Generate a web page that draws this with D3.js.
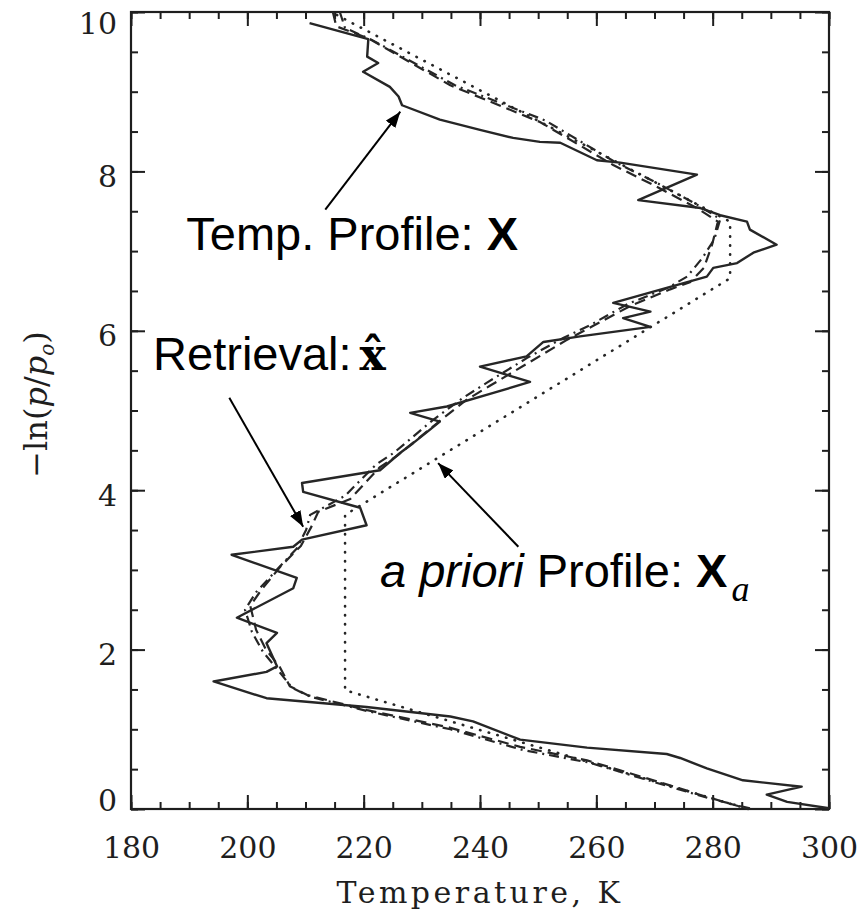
<!DOCTYPE html>
<html>
<head>
<meta charset="utf-8">
<script src="https://cdn.jsdelivr.net/npm/d3@7"></script>
<style>
  body { margin: 0; background: #fff; }
  svg { display: block; }
</style>
</head>
<body>
<svg id="chart"></svg>
<script>
// values: [temperature K, -ln(p/p0)]
let trueProfile = [
  [210.7, 9.86], [220.8, 9.66], [220.6, 9.44], [222.5, 9.36], [219.9, 9.25],
  [224.5, 9.06], [226.0, 8.94], [226.6, 8.83], [233.1, 8.65], [240.0, 8.52],
  [245.7, 8.42], [250.3, 8.37], [253.8, 8.36], [260.1, 8.14], [264.1, 8.11],
  [277.3, 7.96], [267.2, 7.64], [277.9, 7.54], [281.3, 7.45], [285.9, 7.37],
  [286.4, 7.27], [291.0, 7.08], [287.0, 6.98], [284.2, 6.85], [280.1, 6.79],
  [279.0, 6.68], [272.7, 6.55], [262.9, 6.35], [269.3, 6.24], [264.6, 6.16],
  [269.3, 6.05], [257.2, 5.93], [250.9, 5.86], [248.0, 5.68], [240.0, 5.55],
  [248.6, 5.36], [242.3, 5.22], [234.3, 5.05], [228.0, 4.97], [233.1, 4.86],
  [231.4, 4.76], [228.5, 4.59], [226.3, 4.47], [222.8, 4.25], [209.4, 4.09],
  [209.6, 3.98], [219.4, 3.78], [220.5, 3.56], [209.4, 3.38], [207.9, 3.29],
  [197.3, 3.19], [208.5, 2.90], [207.9, 2.77], [198.2, 2.40], [205.1, 2.21],
  [203.3, 2.08], [205.1, 1.79], [203.3, 1.72], [194.2, 1.60], [203.3, 1.39],
  [220.5, 1.28], [234.9, 1.16], [238.8, 1.10], [246.9, 0.87], [258.4, 0.77],
  [272.1, 0.69], [274.4, 0.64], [279.0, 0.51], [285.2, 0.36], [295.3, 0.28],
  [289.3, 0.18], [292.8, 0.09], [300.0, 0.01]
];

let aprioriProfile = [
  [286.1, 0.0], [216.8, 1.49], [216.8, 3.69], [283.0, 6.66], [283.0, 7.37], [214.4, 10.0]
];

let retrievalA = [
  [214.7, 10.0], [215.3, 9.82], [220.8, 9.67], [234.9, 9.08], [250.3, 8.62],
  [262.9, 8.08], [269.8, 7.83], [277.3, 7.54], [280.9, 7.37], [279.9, 7.08],
  [278.5, 6.79], [276.1, 6.61], [272.7, 6.52], [265.8, 6.31], [259.4, 6.06],
  [254.8, 5.88], [248.6, 5.61], [241.7, 5.31], [237.6, 5.13], [232.6, 4.84],
  [225.7, 4.43], [222.8, 4.29], [217.7, 3.89], [212.2, 3.73], [211.0, 3.54],
  [209.2, 3.30], [205.8, 3.05], [202.5, 2.76], [200.5, 2.55], [201.5, 2.25],
  [203.2, 2.00], [205.6, 1.78], [207.3, 1.54], [210.3, 1.43], [220.6, 1.24],
  [234.3, 1.03], [246.9, 0.78], [258.4, 0.61], [269.8, 0.36], [279.1, 0.15],
  [286.1, 0.0]
];

let retrievalB = [
  [215.9, 10.0], [216.8, 9.80], [221.4, 9.65], [235.7, 9.08], [251.2, 8.64],
  [263.4, 8.11], [270.3, 7.86], [277.9, 7.56], [281.3, 7.40], [280.3, 7.15],
  [278.2, 6.91], [275.6, 6.68], [272.3, 6.54], [265.5, 6.34], [258.9, 6.07],
  [254.3, 5.91], [248.1, 5.66], [241.2, 5.35], [237.1, 5.16], [231.9, 4.88],
  [225.2, 4.47], [222.1, 4.32], [216.8, 3.93], [210.8, 3.69], [210.1, 3.50],
  [208.5, 3.27], [205.3, 3.02], [201.5, 2.72], [199.6, 2.50], [200.8, 2.22],
  [202.7, 1.97], [205.3, 1.74], [207.7, 1.52], [210.8, 1.41], [221.1, 1.22],
  [234.9, 1.00], [247.4, 0.74], [258.9, 0.58], [270.3, 0.33], [279.6, 0.13],
  [286.8, 0.0]
];

let xTickLabels = [180, 200, 220, 240, 260, 280, 300];
let yTickLabels = [0, 2, 4, 6, 8, 10];

// annotation arrows: [from, to] in data units
let arrowTemp = [[213.4, 7.52], [226.3, 8.75]];
let arrowRetrieval = [[196.9, 5.16], [209.6, 3.54]];
let arrowApriori = [[246.6, 3.29], [232.8, 4.34]];

let w = 865, h = 913;
let margin = { top: 12, right: 36, bottom: 104, left: 131 };

let xScale = d3.scaleLinear()
    .domain([180, 300])
    .range([margin.left, w - margin.right]);

let yScale = d3.scaleLinear()
    .domain([0, 10])
    .range([h - margin.bottom, margin.top]);

let svg = d3.select("#chart")
    .attr("width", w)
    .attr("height", h);

let ink = "#1e1e1e";
let axisFont = "'DejaVu Serif', serif";

let xMinor = d3.range(180, 300.01, 5);
let yMinor = d3.range(0, 10.01, 0.5);

//ticks point inward on all four sides
function drawAxis(axisFn, scale, transform, majors, minors, showLabels) {
    let gMinor = svg.append("g")
        .attr("transform", transform)
        .call(axisFn(scale).tickValues(minors).tickSize(-7).tickSizeOuter(0).tickFormat(""));
    gMinor.select(".domain").remove();

    let g = svg.append("g")
        .attr("transform", transform)
        .call(axisFn(scale).tickValues(majors).tickSize(-14).tickSizeOuter(0)
            .tickPadding(showLabels ? 28 : 0)
            .tickFormat(showLabels ? d3.format("d") : ""));
    g.select(".domain").remove();
    g.selectAll("line").attr("stroke", ink).attr("stroke-width", 2);
    gMinor.selectAll("line").attr("stroke", ink).attr("stroke-width", 2);
    g.attr("font-family", axisFont).attr("font-size", 30);
    g.selectAll("text").attr("fill", ink);
    return g;
}

drawAxis(d3.axisBottom, xScale, "translate(0," + yScale(0) + ")", xTickLabels, xMinor, true);
drawAxis(d3.axisTop, xScale, "translate(0," + yScale(10) + ")", xTickLabels, xMinor, false);
drawAxis(d3.axisRight, yScale, "translate(" + xScale(300) + ",0)", yTickLabels, yMinor, false);

let yAxisG = drawAxis(d3.axisLeft, yScale, "translate(" + xScale(180) + ",0)", yTickLabels, yMinor, true);
yAxisG.selectAll("text")
    .attr("x", -14)
    .attr("dy", "0.36em")
    .attr("y", function (d) {
        //end labels are pulled inside the frame
        let c = Math.max(yScale(10) + 11, Math.min(yScale(0) - 9, yScale(d) + 4));
        return c - yScale(d);
    });

svg.append("rect")
    .attr("x", xScale(180))
    .attr("y", yScale(10))
    .attr("width", xScale(300) - xScale(180))
    .attr("height", yScale(0) - yScale(10))
    .attr("fill", "none")
    .attr("stroke", ink)
    .attr("stroke-width", 2.2);

let line = d3.line()
    .x(function (d) { return xScale(d[0]); })
    .y(function (d) { return yScale(d[1]); });

let curves = svg.append("g")
    .attr("fill", "none")
    .attr("stroke", "#262626")
    .attr("stroke-linejoin", "round");

curves.append("path")
    .datum(aprioriProfile)
    .attr("d", line)
    .attr("stroke-width", 2.6)
    .attr("stroke-linecap", "round")
    .attr("stroke-dasharray", "0.5,8.5");

curves.append("path")
    .datum(retrievalB)
    .attr("d", line)
    .attr("stroke-width", 2.2)
    .attr("stroke-dasharray", "10,5,2,5");

curves.append("path")
    .datum(retrievalA)
    .attr("d", line)
    .attr("stroke-width", 2.2)
    .attr("stroke-dasharray", "11,6");

curves.append("path")
    .datum(trueProfile)
    .attr("d", line)
    .attr("stroke-width", 2.4);

// y axis title
let yTitle = svg.append("text")
    .attr("transform", "translate(47," + (yScale(5) - 6) + ") rotate(-90)")
    .attr("text-anchor", "middle")
    .attr("font-family", axisFont)
    .attr("font-size", 32)
    .attr("fill", ink);
yTitle.append("tspan").text("\u2212ln(");
yTitle.append("tspan").attr("font-style", "italic").text("p");
yTitle.append("tspan").text("/");
yTitle.append("tspan").attr("font-style", "italic").text("p");
yTitle.append("tspan").attr("font-style", "italic").attr("font-size", 20).attr("dy", 7).text("o");
yTitle.append("tspan").attr("dy", -7).text(")");

svg.append("text")
    .attr("x", xScale(240))
    .attr("y", 903)
    .attr("text-anchor", "middle")
    .attr("font-family", axisFont)
    .attr("font-size", 30)
    .attr("letter-spacing", 3.5)
    .attr("fill", ink)
    .text("Temperature, K");

// annotations
svg.append("defs").append("marker")
    .attr("id", "head")
    .attr("viewBox", "0 0 16 12")
    .attr("refX", 16)
    .attr("refY", 6)
    .attr("markerWidth", 16)
    .attr("markerHeight", 12)
    .attr("markerUnits", "userSpaceOnUse")
    .attr("orient", "auto")
    .append("path")
    .attr("d", "M0,0L16,6L0,12Z")
    .attr("fill", "#000");

[arrowTemp, arrowRetrieval, arrowApriori].forEach(function (a) {
    svg.append("line")
        .attr("x1", xScale(a[0][0]))
        .attr("y1", yScale(a[0][1]))
        .attr("x2", xScale(a[1][0]))
        .attr("y2", yScale(a[1][1]))
        .attr("stroke", "#000")
        .attr("stroke-width", 2)
        .attr("marker-end", "url(#head)");
});

let sans = "'Liberation Sans', Arial, sans-serif";

let t1 = svg.append("text")
    .attr("x", xScale(189.5))
    .attr("y", yScale(7.01))
    .attr("font-family", sans)
    .attr("font-size", 47);
t1.append("tspan").text("Temp. Profile: ");
t1.append("tspan").attr("font-weight", "bold").text("X");

// retrieval label, with the bold serif x-hat in the same text line
let t2 = svg.append("text")
    .attr("x", xScale(183.8))
    .attr("y", yScale(5.51))
    .attr("font-family", sans)
    .attr("font-size", 47);
t2.append("tspan").text("Retrieval:");
t2.append("tspan")
    .attr("dx", 8)
    .attr("font-family", "'DejaVu Serif', serif")
    .attr("font-weight", "bold")
    .attr("font-size", 44)
    .text("x\u0302");

let t3 = svg.append("text")
    .attr("x", xScale(222.8))
    .attr("y", yScale(2.79))
    .attr("font-family", sans)
    .attr("font-size", 47);
t3.append("tspan").attr("font-style", "italic").text("a priori");
t3.append("tspan").text(" Profile: ");
t3.append("tspan").attr("font-weight", "bold").text("X");
t3.append("tspan")
    .attr("font-family", "'Liberation Serif', serif")
    .attr("font-style", "italic")
    .attr("font-size", 36)
    .attr("dx", 4)
    .attr("dy", 14)
    .text("a");
</script>
</body>
</html>
